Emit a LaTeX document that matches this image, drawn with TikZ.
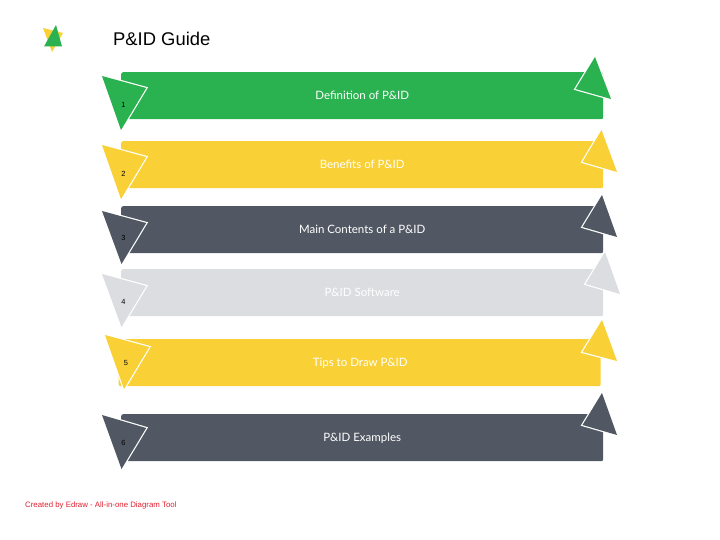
\documentclass[tikz,border=0pt]{standalone}
\usepackage{fontspec}
\setmainfont{Liberation Sans}
\newfontfamily\barfont{Lato}
\definecolor{cgreen}{HTML}{2AB150}
\definecolor{cyellow}{HTML}{F9D136}
\definecolor{cdark}{HTML}{525863}
\definecolor{clight}{HTML}{DCDDE1}
\definecolor{cred}{HTML}{E0202E}
\tikzset{
  barbox/.style={fill=#1,rounded corners=2pt,minimum width=482pt,minimum height=47pt,inner sep=0pt,anchor=north west,text=white,font=\barfont\fontsize{11.5}{12}\selectfont,text depth=1pt},
  tri/.style={fill=#1,preaction={draw=white,line width=2.4pt,line join=miter}},
  numlabel/.style={font=\fontsize{7.4}{8}\selectfont,text=black,inner sep=0pt},
}
\begin{document}
\begin{tikzpicture}[x=1pt,y=-1pt]
\useasboundingbox (0,0) rectangle (720,540);
% logo
\fill[cyellow] (43,28) -- (63,33) -- (52,52) -- cycle;
\fill[cgreen] (56,25) -- (44,46.5) -- (62,46.5) -- cycle;
\node[anchor=base west,inner sep=0pt,font=\fontsize{18.4}{20}\selectfont] (title) at (113,45.5) {P\&ID Guide};
% bars
\node[barbox=cgreen] (b1) at (121,72) {Definition of P\&ID};
\node[barbox=cyellow] (b2) at (121,141) {Benefits of P\&ID};
\node[barbox=cdark] (b3) at (121,206) {Main Contents of a P\&ID};
\node[barbox=clight] (b4) at (121,269) {P\&ID Software};
\node[barbox=cyellow] (b5) at (118.5,339) {\hspace{1pt}Tips to Draw P\&ID};
\node[barbox=cdark] (b6) at (121,414) {P\&ID Examples};
% left triangles
\path[tri=cgreen] (102,76) -- (146.2,88) -- (121,130) -- cycle;
\path[tri=cyellow] (102,145) -- (146.2,157) -- (121,199) -- cycle;
\path[tri=cdark] (102,211) -- (146.2,223) -- (121.5,264) -- cycle;
\path[tri=clight] (102,274) -- (146.2,286) -- (121.5,327) -- cycle;
\path[tri=cyellow] (105,335) -- (149.2,347) -- (124,389) -- cycle;
\path[tri=cdark] (102,415) -- (146.2,428) -- (121.5,469) -- cycle;
% right triangles
\path[tri=cgreen] (595,57) -- (575.5,89) -- (611,99) -- cycle;
\path[tri=cyellow] (601.5,130) -- (582.5,162) -- (617,172) -- cycle;
\path[tri=cdark] (602,195) -- (582.5,227) -- (617,237) -- cycle;
\path[tri=clight] (605,252) -- (585.5,284) -- (620,294) -- cycle;
\path[tri=cyellow] (602,320) -- (582.5,352) -- (617,361) -- cycle;
\path[tri=cdark] (602,393) -- (582.5,425) -- (617,435) -- cycle;
% numbers
\node[numlabel] (n1) at (123.5,104.5) {1};
\node[numlabel] (n2) at (123.5,173.5) {2};
\node[numlabel] (n3) at (123.5,238) {3};
\node[numlabel] (n4) at (123.5,301.5) {4};
\node[numlabel] (n5) at (126,363) {5};
\node[numlabel] (n6) at (123.5,443) {6};
\node[anchor=base west,inner sep=0pt,text=cred,font=\fontsize{7.85}{9}\selectfont] (foot) at (25,507.5) {Created by Edraw - All-in-one Diagram Tool};
\end{tikzpicture}
\end{document}
